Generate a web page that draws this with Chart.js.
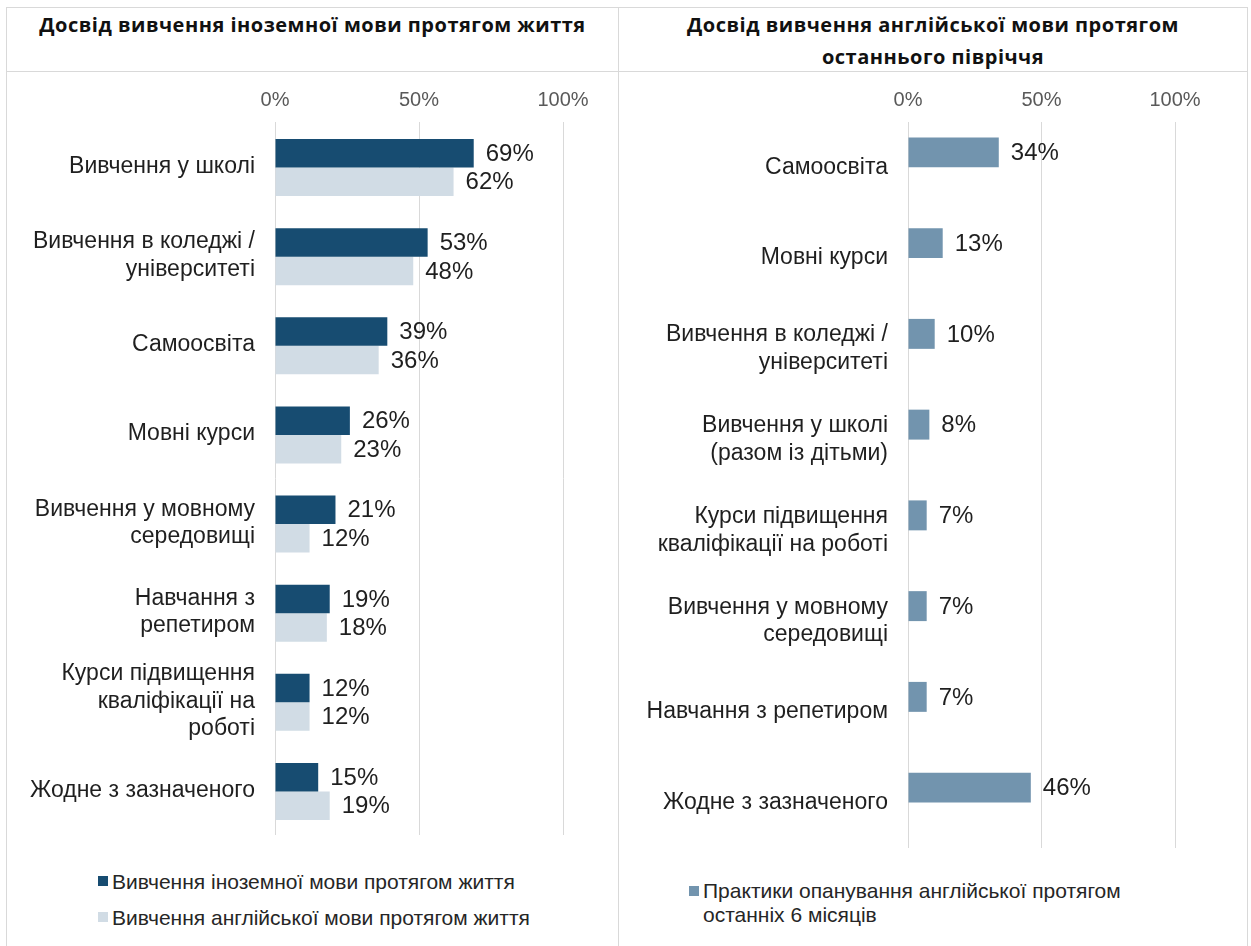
<!DOCTYPE html>
<html lang="uk">
<head>
<meta charset="utf-8">
<script src="https://cdn.jsdelivr.net/npm/chart.js@4.4.1/dist/chart.umd.min.js"></script>
<style>
  body { margin: 0; background: #fff; font-family: 'Liberation Sans', Arial, sans-serif; }
  #page { position: relative; width: 1251px; height: 946px; overflow: hidden; }
  .frame { position: absolute; background: #d9d9d9; }
  .title { position: absolute; top: 9px; text-align: center; font-family: 'Open Sans', sans-serif;
           font-weight: 700; font-size: 20px; letter-spacing: 0.5px; line-height: 32px; color: #111; }
  canvas { position: absolute; }
  .legend { position: absolute; color: #262626; font-size: 21px; white-space: nowrap; }
  .legend .item { position: relative; }
  .legend .sw { position: absolute; width: 10px; height: 10px; }
</style>
</head>
<body>
<div id="page">
  <div class="frame" style="left:6px; top:7px; width:1242px; height:1px"></div>
  <div class="frame" style="left:6px; top:71px; width:1242px; height:1px"></div>
  <div class="frame" style="left:6px; top:7px; width:1px; height:939px"></div>
  <div class="frame" style="left:618px; top:7px; width:1px; height:939px"></div>
  <div class="frame" style="left:1247px; top:7px; width:1px; height:939px"></div>

  <div class="title" style="left:7px; width:611px">Досвід вивчення іноземної мови протягом життя</div>
  <div class="title" style="left:619px; width:628px">Досвід вивчення англійської мови протягом<br>останнього півріччя</div>

  <canvas id="lifetimeChart" width="611" height="764" style="left:7px; top:71px"></canvas>
  <canvas id="halfYearChart" width="629" height="777" style="left:618px; top:71px"></canvas>

  <div class="legend" id="lifetimeLegend" style="left:112px; top:864px; line-height:36px"></div>
  <div class="legend" id="halfYearLegend" style="left:703px; top:879px; line-height:24px"></div>
</div>

<script>
const lifetimeCategories = [
    'Вивчення у школі',
    ['Вивчення в коледжі /', 'університеті'],
    'Самоосвіта',
    'Мовні курси',
    ['Вивчення у мовному', 'середовищі'],
    ['Навчання з', 'репетиром'],
    ['Курси підвищення', 'кваліфікації на', 'роботі'],
    'Жодне з зазначеного'
];
const foreignLifetime = [69, 53, 39, 26, 21, 19, 12, 15];
const englishLifetime = [62, 48, 36, 23, 12, 18, 12, 19];

const halfYearCategories = [
    'Самоосвіта',
    'Мовні курси',
    ['Вивчення в коледжі /', 'університеті'],
    ['Вивчення у школі', '(разом із дітьми)'],
    ['Курси підвищення', 'кваліфікації на роботі'],
    ['Вивчення у мовному', 'середовищі'],
    'Навчання з репетиром',
    'Жодне з зазначеного'
];
const englishHalfYear = [34, 13, 10, 8, 7, 7, 7, 46];

const percentTicks = [0, 50, 100];

const COLORS = {
    dark: '#174c71',
    light: '#d1dce5',
    steel: '#7294ae',
    grid: '#d9d9d9',
    tick: '#595959',
    text: '#1f1f1f'
};
const FONT = "'Liberation Sans', Arial, sans-serif";

// nudges the bars (and their values) up from the category centre
const barShift = {
    id: 'barShift',
    beforeDatasetsDraw(chart, args, opts) {
        chart.ctx.save();
        chart.ctx.translate(0, opts.dy || 0);
    },
    afterDatasetsDraw(chart) {
        chart.ctx.restore();
    }
};

// values printed to the right of each bar
const valueLabels = {
    id: 'valueLabels',
    afterDatasetsDraw(chart) {
        const ctx = chart.ctx;
        const dy = (chart.options.plugins.barShift || {}).dy || 0;
        ctx.save();
        ctx.font = '24px ' + FONT;
        ctx.fillStyle = COLORS.text;
        ctx.textAlign = 'left';
        ctx.textBaseline = 'middle';
        chart.data.datasets.forEach((ds, i) => {
            chart.getDatasetMeta(i).data.forEach((bar, j) => {
                ctx.fillText(ds.data[j] + '%', bar.x + 12, bar.y + 1 + dy);
            });
        });
        ctx.restore();
    }
};

function buildOptions(axisWidth, rightPad, dy) {
    return {
        indexAxis: 'y',
        responsive: false,
        animation: false,
        layout: { padding: { left: 0, right: rightPad, top: 0, bottom: 0 } },
        plugins: { legend: { display: false }, tooltip: { enabled: false }, barShift: { dy: dy } },
        scales: {
            x: {
                position: 'top',
                min: 0,
                max: 100,
                afterBuildTicks: s => { s.ticks = percentTicks.map(v => ({ value: v })); },
                afterFit: s => { s.height = 51; },
                border: { display: false },
                grid: { color: COLORS.grid, drawTicks: false },
                ticks: { padding: 10, color: COLORS.tick, font: { family: FONT, size: 20 }, callback: v => v + '%' }
            },
            y: {
                // fixed label column, no extra room above/below the plot
                afterFit: s => { s.width = axisWidth; s.paddingTop = 0; s.paddingBottom = 0; },
                border: { display: false },
                grid: { display: false, drawTicks: false },
                ticks: {
                    padding: 20,
                    color: COLORS.text,
                    font: { family: FONT, size: 23, lineHeight: 1.2 }
                }
            }
        }
    };
}

new Chart(document.getElementById('lifetimeChart'), {
    type: 'bar',
    data: {
        labels: lifetimeCategories,
        datasets: [
            { label: 'Вивчення іноземної мови протягом життя', data: foreignLifetime,
              backgroundColor: COLORS.dark, barPercentage: 1, categoryPercentage: 0.64 },
            { label: 'Вивчення англійської мови протягом життя', data: englishLifetime,
              backgroundColor: COLORS.light, barPercentage: 1, categoryPercentage: 0.64 }
        ]
    },
    options: buildOptions(268, 55, 1),
    plugins: [barShift, valueLabels]
});

new Chart(document.getElementById('halfYearChart'), {
    type: 'bar',
    data: {
        labels: halfYearCategories,
        datasets: [
            { label: ['Практики опанування англійської протягом', 'останніх 6 місяців'], data: englishHalfYear,
              backgroundColor: COLORS.steel, barPercentage: 1, categoryPercentage: 0.33 }
        ]
    },
    options: buildOptions(290, 72, -15),
    plugins: [barShift, valueLabels]
});

function fillLegend(id, chartId, swTop) {
    const chart = Chart.getChart(chartId);
    const box = document.getElementById(id);
    chart.data.datasets.forEach(ds => {
        const item = document.createElement('div');
        item.className = 'item';
        const text = Array.isArray(ds.label) ? ds.label.join('<br>') : ds.label;
        item.innerHTML = '<span class="sw" style="background:' + ds.backgroundColor +
            '; left:-14px; top:' + swTop + 'px"></span>' + text;
        box.appendChild(item);
    });
}
fillLegend('lifetimeLegend', 'lifetimeChart', 12);
fillLegend('halfYearLegend', 'halfYearChart', 7);
</script>
</body>
</html>
